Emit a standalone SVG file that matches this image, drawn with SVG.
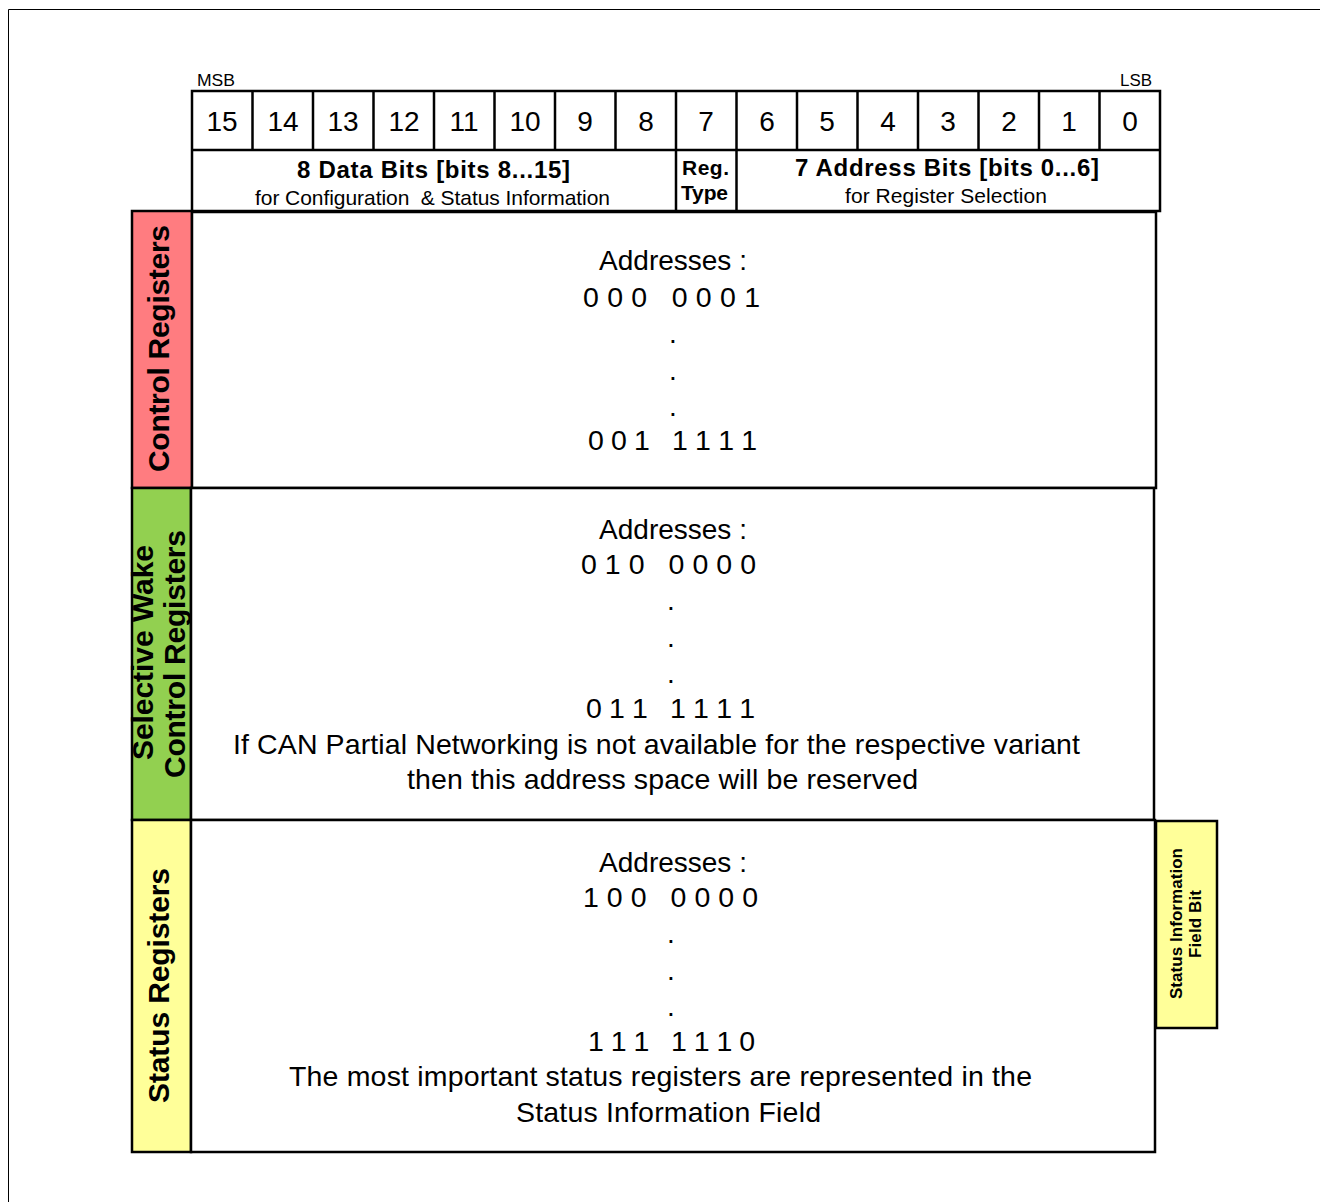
<svg xmlns="http://www.w3.org/2000/svg" width="1320" height="1202" viewBox="0 0 1320 1202">
<style>
text{font-family:"Liberation Sans",Arial,sans-serif;fill:#000}
.bit{font-size:28px;text-anchor:middle}
.small{font-size:16px}
.hb{font-size:24px;font-weight:bold}
.hn{font-size:21px}
.addr{font-size:28px;text-anchor:middle}
.row{font-size:28.5px}
.vt{font-size:30px;font-weight:bold}
.box{fill:#fff;stroke:#000;stroke-width:2.5}
.cell{fill:none;stroke:#000;stroke-width:2.5}
</style>
<rect width="1320" height="1202" fill="#fff"/>
<path d="M8.5 1202 V9.5 H1320" fill="none" stroke="#000" stroke-width="1"/>

<g id="header">
<text class="small" x="197" y="86" textLength="38" lengthAdjust="spacingAndGlyphs">MSB</text>
<text class="small" x="1120" y="86" textLength="32" lengthAdjust="spacingAndGlyphs">LSB</text>
<rect class="cell" x="192" y="91" width="968" height="120"/>
<path class="cell" d="M192 150 H1160 M252.5 91 V150 M313 91 V150 M373.5 91 V150 M434 91 V150 M494.5 91 V150 M555 91 V150 M615.5 91 V150 M676 91 V211 M736.5 91 V211 M797 91 V150 M857.5 91 V150 M918 91 V150 M978.5 91 V150 M1039 91 V150 M1099.5 91 V150"/>
<text class="bit" x="222" y="131">15</text>
<text class="bit" x="283" y="131">14</text>
<text class="bit" x="343" y="131">13</text>
<text class="bit" x="404" y="131">12</text>
<text class="bit" x="464" y="131">11</text>
<text class="bit" x="525" y="131">10</text>
<text class="bit" x="585" y="131">9</text>
<text class="bit" x="646" y="131">8</text>
<text class="bit" x="706" y="131">7</text>
<text class="bit" x="767" y="131">6</text>
<text class="bit" x="827" y="131">5</text>
<text class="bit" x="888" y="131">4</text>
<text class="bit" x="948" y="131">3</text>
<text class="bit" x="1009" y="131">2</text>
<text class="bit" x="1069" y="131">1</text>
<text class="bit" x="1130" y="131">0</text>
<text class="hb" x="297" y="178" textLength="273">8 Data Bits [bits 8...15]</text>
<text class="hn" x="255" y="205" textLength="355" xml:space="preserve">for Configuration  &amp; Status Information</text>
<text class="hn" x="682" y="175" font-weight="bold" textLength="47">Reg.</text>
<text class="hn" x="681" y="200" font-weight="bold" textLength="47">Type</text>
<text class="hb" x="795" y="176" textLength="304">7 Address Bits [bits 0...6]</text>
<text class="hn" x="845" y="203" textLength="202">for Register Selection</text>
</g>

<g id="control">
<rect x="132" y="211" width="60" height="277" fill="#ff7c80" stroke="#000" stroke-width="2.5"/>
<rect class="box" x="192" y="212" width="964" height="276"/>
<text class="vt" transform="translate(169 472) rotate(-90)" textLength="247">Control Registers</text>
<text class="addr" x="673" y="270">Addresses :</text>
<text class="row" x="583" y="307" textLength="177" xml:space="preserve">0 0 0   0 0 0 1</text>
<text class="addr" x="673" y="343">.</text>
<text class="addr" x="673" y="380">.</text>
<text class="addr" x="673" y="416">.</text>
<text class="row" x="588" y="450" textLength="169" xml:space="preserve">0 0 1   1 1 1 1</text>
</g>

<g id="selective">
<rect x="132" y="488" width="59" height="332" fill="#92d050" stroke="#000" stroke-width="2.5"/>
<rect class="box" x="191" y="488" width="963" height="332"/>
<text class="vt" transform="translate(153 760) rotate(-90)" textLength="215">Selective Wake</text>
<text class="vt" transform="translate(185 778) rotate(-90)" textLength="248">Control Registers</text>
<text class="addr" x="673" y="539">Addresses :</text>
<text class="row" x="581" y="574" textLength="175" xml:space="preserve">0 1 0   0 0 0 0</text>
<text class="addr" x="671" y="610">.</text>
<text class="addr" x="671" y="647">.</text>
<text class="addr" x="671" y="683">.</text>
<text class="row" x="586" y="718" textLength="169" xml:space="preserve">0 1 1   1 1 1 1</text>
<text class="row" x="233" y="754" textLength="847">If CAN Partial Networking is not available for the respective variant</text>
<text class="row" x="407" y="789" textLength="511">then this address space will be reserved</text>
</g>

<g id="status">
<rect x="132" y="820" width="59" height="332" fill="#ffff99" stroke="#000" stroke-width="2.5"/>
<rect class="box" x="191" y="820" width="964" height="332"/>
<text class="vt" transform="translate(169 1103) rotate(-90)" textLength="235">Status Registers</text>
<text class="addr" x="673" y="872">Addresses :</text>
<text class="row" x="583" y="907" textLength="175" xml:space="preserve">1 0 0   0 0 0 0</text>
<text class="addr" x="671" y="943">.</text>
<text class="addr" x="671" y="980">.</text>
<text class="addr" x="671" y="1016">.</text>
<text class="row" x="588" y="1051" textLength="167" xml:space="preserve">1 1 1   1 1 1 0</text>
<text class="row" x="289" y="1086" textLength="743">The most important status registers are represented in the</text>
<text class="row" x="516" y="1122" textLength="305">Status Information Field</text>
</g>

<g id="status-info-field-bit">
<rect x="1156" y="821" width="61" height="207" fill="#ffff99" stroke="#000" stroke-width="2.5"/>
<text font-size="17" font-weight="bold" transform="translate(1182 999) rotate(-90)" textLength="151">Status Information</text>
<text font-size="17" font-weight="bold" transform="translate(1201 958) rotate(-90)" textLength="68">Field Bit</text>
</g>
<g id="connectors"/>
</svg>
